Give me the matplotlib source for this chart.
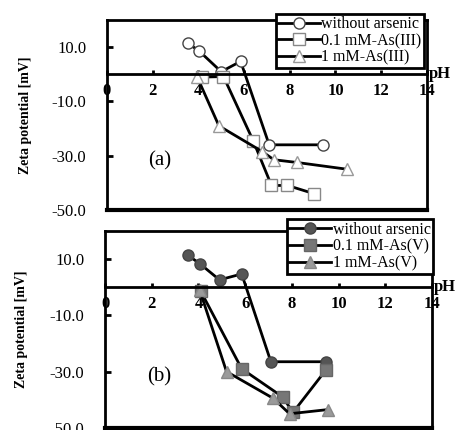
import matplotlib
matplotlib.use("Agg")
import matplotlib.pyplot as plt

plt.rcParams['font.family'] = ['Liberation Serif', 'DejaVu Serif']

# panel (a): As(III)
ph_a_none = [3.55, 4.05, 5.0, 5.85, 7.1, 9.45]
zeta_a_none = [11.5, 8.5, 1.0, 4.8, -26.0, -26.0]
ph_a_01 = [4.15, 5.1, 6.4, 7.2, 7.9, 9.05]
zeta_a_01 = [-1.0, -0.8, -24.5, -41.0, -41.0, -44.0]
ph_a_1 = [3.95, 4.9, 6.8, 7.3, 8.3, 10.5]
zeta_a_1 = [-1.0, -19.0, -28.5, -31.5, -32.5, -35.0]

# panel (b): As(V)
ph_b_none = [3.55, 4.05, 4.9, 5.85, 7.1, 9.45]
zeta_b_none = [11.3, 8.4, 2.6, 4.7, -26.5, -26.5]
ph_b_01 = [4.1, 5.85, 7.6, 8.05, 9.45]
zeta_b_01 = [-1.5, -29.0, -39.0, -44.5, -29.5]
ph_b_1 = [4.05, 5.2, 7.2, 7.9, 9.55]
zeta_b_1 = [-1.0, -30.0, -39.5, -45.0, -43.5]

labels_a = ['without arsenic', '0.1 mM-As(III)', '1 mM-As(III)']
labels_b = ['without arsenic', '0.1 mM-As(V)', '1 mM-As(V)']

xticks = [0, 2, 4, 6, 8, 10, 12, 14]
yticks = [10, -10, -30, -50]
ytick_labels = ['10.0', '-10.0', '-30.0', '-50.0']

fig = plt.figure(figsize=(4.65, 4.3), dpi=100)
ax_a = fig.add_axes([0.230, 0.512, 0.688, 0.441])
ax_b = fig.add_axes([0.226, 0.005, 0.703, 0.458])


def style_axes(ax, tag):
    ax.set_xlim(0, 14)
    ax.set_ylim(-50, 20)
    for s in ax.spines.values():
        s.set_linewidth(2)
    ax.spines['bottom'].set_position(('data', 0))
    ax.axhline(-50, color='black', lw=3, clip_on=False, zorder=5)
    ax.set_xticks(xticks)
    ax.set_xticklabels([str(t) for t in xticks], fontweight='bold', fontsize=12)
    ax.tick_params(axis='x', direction='in', length=3, width=2, pad=6)
    ax.set_yticks(yticks)
    ax.set_yticklabels(ytick_labels, fontsize=12)
    ax.tick_params(axis='y', direction='in', length=4, width=2, pad=15)
    ax.set_ylabel('Zeta potential [mV]', fontweight='bold', fontsize=10)
    ax.yaxis.set_label_coords(-0.235, 0.5)
    ax.text(14.1, 0, 'pH', fontweight='bold', fontsize=12, va='center', ha='left',
            clip_on=False)
    ax.text(1.8, -32, tag, fontsize=15, va='center', ha='left')


style_axes(ax_a, '(a)')
style_axes(ax_b, '(b)')

kw = dict(color='black', lw=2, markersize=8, markeredgewidth=1)
ax_a.plot(ph_a_none, zeta_a_none, marker='o', markerfacecolor='white',
          markeredgecolor='#444444', label=labels_a[0], **kw)
ax_a.plot(ph_a_01, zeta_a_01, marker='s', markerfacecolor='white',
          markeredgecolor='#888888', label=labels_a[1], **kw)
ax_a.plot(ph_a_1, zeta_a_1, marker='^', markerfacecolor='white',
          markeredgecolor='#999999', label=labels_a[2], **kw)

ax_b.plot(ph_b_none, zeta_b_none, marker='o', markerfacecolor='#555555',
          markeredgecolor='#444444', label=labels_b[0], **kw)
ax_b.plot(ph_b_01, zeta_b_01, marker='s', markerfacecolor='#777777',
          markeredgecolor='#666666', label=labels_b[1], **kw)
ax_b.plot(ph_b_1, zeta_b_1, marker='^', markerfacecolor='#9a9a9a',
          markeredgecolor='#888888', label=labels_b[2], **kw)

for ax, anchor in [(ax_a, (0.912, 0.968)), (ax_b, (0.931, 0.490))]:
    leg = ax.legend(loc='upper right', bbox_to_anchor=anchor,
                    bbox_transform=fig.transFigure, fontsize=11.5,
                    frameon=True, fancybox=False, framealpha=1,
                    borderpad=0.15, labelspacing=0.05, handlelength=2.6,
                    handletextpad=0.1, borderaxespad=0)
    leg.get_frame().set_edgecolor('black')
    leg.get_frame().set_linewidth(2)
    leg.set_zorder(10)

fig.savefig('out.png', dpi=100)
